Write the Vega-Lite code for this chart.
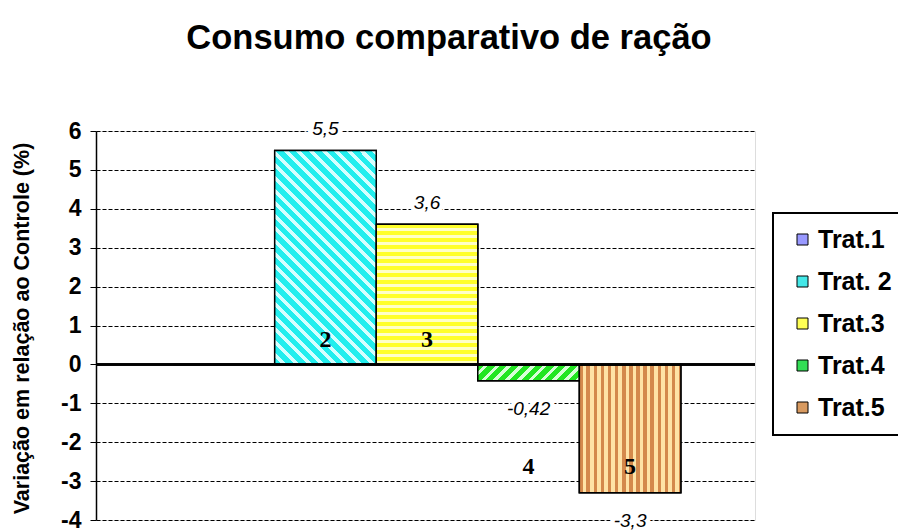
{
  "$schema": "https://vega.github.io/schema/vega-lite/v6.json",
  "width": 659,
  "height": 389,
  "autosize": {"type": "none"},
  "padding": {"left": 96, "top": 131, "right": 143, "bottom": 11},
  "background": "white",
  "config": {"legend": {"strokeWidth": 2}},
  "title": {"text": "Consumo comparativo de ração", "font": "Liberation Sans", "fontSize": 34.5, "fontWeight": "bold", "color": "black", "anchor": "middle", "dx": 23.5, "offset": 64},
  "data": {"values": [
    {"trat": "Trat.1", "valor": 0, "rotulo": "", "num": ""},
    {"trat": "Trat. 2", "valor": 5.5, "rotulo": "5,5", "num": "2"},
    {"trat": "Trat.3", "valor": 3.6, "rotulo": "3,6", "num": "3"},
    {"trat": "Trat.4", "valor": -0.42, "rotulo": "-0,42", "num": "4"},
    {"trat": "Trat.5", "valor": -3.3, "rotulo": "-3,3", "num": "5"}
  ]},
  "encoding": {
    "x": {"field": "trat", "type": "nominal", "sort": null, "scale": {"paddingInner": 0, "paddingOuter": 0.745, "align": 0.51}, "axis": null},
    "y": {"field": "valor", "type": "quantitative", "scale": {"domain": [-4, 6], "nice": false, "zero": false},
      "axis": {"title": "Variação em relação ao Controle (%)", "values": [-4, -3, -2, -1, 0, 1, 2, 3, 4, 5, 6], "labelExpr": "toString(datum.value)",
        "grid": true, "gridColor": "black", "gridDash": [4, 2], "gridWidth": 1.1, "gridOpacity": 1,
        "domainColor": "black", "domainWidth": 1.5, "tickColor": "black", "tickSize": 6, "tickWidth": 1,
        "labelFont": "Liberation Sans", "labelFontSize": 23, "labelFontWeight": "bold", "labelColor": "black", "labelPadding": 9,
        "titleFont": "Liberation Sans", "titleFontSize": 21.5, "titleFontWeight": "bold", "titleColor": "black",
        "titleX": -63, "titleY": 197, "titleAngle": 270, "titleAlign": "center", "titleBaseline": "bottom"}}
  },
  "layer": [
    {
      "mark": {"type": "bar", "stroke": "black", "strokeWidth": 1.5},
      "encoding": {
        "color": {"field": "trat", "type": "nominal", "sort": null,
          "scale": {"domain": ["Trat.1", "Trat. 2", "Trat.3", "Trat.4", "Trat.5"], "range": ["#9999ff", "#44e8e8", "#ffff55", "#33dd55", "#d89a60"]},
          "legend": {"title": null, "orient": "none", "legendX": 677, "legendY": 82, "direction": "vertical",
            "fillColor": "white", "strokeColor": "black", "padding": 14, "cornerRadius": 0,
            "symbolType": "square", "symbolSize": 121, "symbolStrokeColor": "black", "symbolStrokeWidth": 1, "symbolOpacity": 1, "symbolOffset": 3,
            "labelFont": "Liberation Sans", "labelFontSize": 25, "labelFontWeight": "bold", "labelColor": "black", "labelOffset": 3, "rowPadding": 16}}
      }
    },
    {
      "transform": [{"filter": "datum.trat == 'Trat. 2'"}],
      "mark": {"type": "bar", "stroke": "black", "strokeWidth": 1.5,
        "fill": {"gradient": "linear", "x1": 0, "y1": 1, "x2": 0.571, "y2": -0.203, "stops": [
          {"offset": 0, "color": "#22eeee"}, {"offset": 0.024, "color": "#22eeee"}, {"offset": 0.024, "color": "#d6ffff"}, {"offset": 0.04, "color": "#d6ffff"},
          {"offset": 0.04, "color": "#22eeee"}, {"offset": 0.064, "color": "#22eeee"}, {"offset": 0.064, "color": "#d6ffff"}, {"offset": 0.08, "color": "#d6ffff"},
          {"offset": 0.08, "color": "#22eeee"}, {"offset": 0.104, "color": "#22eeee"}, {"offset": 0.104, "color": "#d6ffff"}, {"offset": 0.12, "color": "#d6ffff"},
          {"offset": 0.12, "color": "#22eeee"}, {"offset": 0.144, "color": "#22eeee"}, {"offset": 0.144, "color": "#d6ffff"}, {"offset": 0.16, "color": "#d6ffff"},
          {"offset": 0.16, "color": "#22eeee"}, {"offset": 0.184, "color": "#22eeee"}, {"offset": 0.184, "color": "#d6ffff"}, {"offset": 0.2, "color": "#d6ffff"},
          {"offset": 0.2, "color": "#22eeee"}, {"offset": 0.224, "color": "#22eeee"}, {"offset": 0.224, "color": "#d6ffff"}, {"offset": 0.24, "color": "#d6ffff"},
          {"offset": 0.24, "color": "#22eeee"}, {"offset": 0.264, "color": "#22eeee"}, {"offset": 0.264, "color": "#d6ffff"}, {"offset": 0.28, "color": "#d6ffff"},
          {"offset": 0.28, "color": "#22eeee"}, {"offset": 0.304, "color": "#22eeee"}, {"offset": 0.304, "color": "#d6ffff"}, {"offset": 0.32, "color": "#d6ffff"},
          {"offset": 0.32, "color": "#22eeee"}, {"offset": 0.344, "color": "#22eeee"}, {"offset": 0.344, "color": "#d6ffff"}, {"offset": 0.36, "color": "#d6ffff"},
          {"offset": 0.36, "color": "#22eeee"}, {"offset": 0.384, "color": "#22eeee"}, {"offset": 0.384, "color": "#d6ffff"}, {"offset": 0.4, "color": "#d6ffff"},
          {"offset": 0.4, "color": "#22eeee"}, {"offset": 0.424, "color": "#22eeee"}, {"offset": 0.424, "color": "#d6ffff"}, {"offset": 0.44, "color": "#d6ffff"},
          {"offset": 0.44, "color": "#22eeee"}, {"offset": 0.464, "color": "#22eeee"}, {"offset": 0.464, "color": "#d6ffff"}, {"offset": 0.48, "color": "#d6ffff"},
          {"offset": 0.48, "color": "#22eeee"}, {"offset": 0.504, "color": "#22eeee"}, {"offset": 0.504, "color": "#d6ffff"}, {"offset": 0.52, "color": "#d6ffff"},
          {"offset": 0.52, "color": "#22eeee"}, {"offset": 0.544, "color": "#22eeee"}, {"offset": 0.544, "color": "#d6ffff"}, {"offset": 0.56, "color": "#d6ffff"},
          {"offset": 0.56, "color": "#22eeee"}, {"offset": 0.584, "color": "#22eeee"}, {"offset": 0.584, "color": "#d6ffff"}, {"offset": 0.6, "color": "#d6ffff"},
          {"offset": 0.6, "color": "#22eeee"}, {"offset": 0.624, "color": "#22eeee"}, {"offset": 0.624, "color": "#d6ffff"}, {"offset": 0.64, "color": "#d6ffff"},
          {"offset": 0.64, "color": "#22eeee"}, {"offset": 0.664, "color": "#22eeee"}, {"offset": 0.664, "color": "#d6ffff"}, {"offset": 0.68, "color": "#d6ffff"},
          {"offset": 0.68, "color": "#22eeee"}, {"offset": 0.704, "color": "#22eeee"}, {"offset": 0.704, "color": "#d6ffff"}, {"offset": 0.72, "color": "#d6ffff"},
          {"offset": 0.72, "color": "#22eeee"}, {"offset": 0.744, "color": "#22eeee"}, {"offset": 0.744, "color": "#d6ffff"}, {"offset": 0.76, "color": "#d6ffff"},
          {"offset": 0.76, "color": "#22eeee"}, {"offset": 0.784, "color": "#22eeee"}, {"offset": 0.784, "color": "#d6ffff"}, {"offset": 0.8, "color": "#d6ffff"},
          {"offset": 0.8, "color": "#22eeee"}, {"offset": 0.824, "color": "#22eeee"}, {"offset": 0.824, "color": "#d6ffff"}, {"offset": 0.84, "color": "#d6ffff"},
          {"offset": 0.84, "color": "#22eeee"}, {"offset": 0.864, "color": "#22eeee"}, {"offset": 0.864, "color": "#d6ffff"}, {"offset": 0.88, "color": "#d6ffff"},
          {"offset": 0.88, "color": "#22eeee"}, {"offset": 0.904, "color": "#22eeee"}, {"offset": 0.904, "color": "#d6ffff"}, {"offset": 0.92, "color": "#d6ffff"},
          {"offset": 0.92, "color": "#22eeee"}, {"offset": 0.944, "color": "#22eeee"}, {"offset": 0.944, "color": "#d6ffff"}, {"offset": 0.96, "color": "#d6ffff"},
          {"offset": 0.96, "color": "#22eeee"}, {"offset": 0.984, "color": "#22eeee"}, {"offset": 0.984, "color": "#d6ffff"}, {"offset": 1, "color": "#d6ffff"}
        ]}}
    },
    {
      "transform": [{"filter": "datum.trat == 'Trat.3'"}],
      "mark": {"type": "bar", "stroke": "black", "strokeWidth": 1.5,
        "fill": {"gradient": "linear", "x1": 0, "y1": 0, "x2": 0, "y2": 1, "stops": [
          {"offset": 0, "color": "#ffff2a"}, {"offset": 0.025, "color": "#ffff2a"}, {"offset": 0.025, "color": "#ffffc8"}, {"offset": 0.05, "color": "#ffffc8"},
          {"offset": 0.05, "color": "#ffff2a"}, {"offset": 0.075, "color": "#ffff2a"}, {"offset": 0.075, "color": "#ffffc8"}, {"offset": 0.1, "color": "#ffffc8"},
          {"offset": 0.1, "color": "#ffff2a"}, {"offset": 0.125, "color": "#ffff2a"}, {"offset": 0.125, "color": "#ffffc8"}, {"offset": 0.15, "color": "#ffffc8"},
          {"offset": 0.15, "color": "#ffff2a"}, {"offset": 0.175, "color": "#ffff2a"}, {"offset": 0.175, "color": "#ffffc8"}, {"offset": 0.2, "color": "#ffffc8"},
          {"offset": 0.2, "color": "#ffff2a"}, {"offset": 0.225, "color": "#ffff2a"}, {"offset": 0.225, "color": "#ffffc8"}, {"offset": 0.25, "color": "#ffffc8"},
          {"offset": 0.25, "color": "#ffff2a"}, {"offset": 0.275, "color": "#ffff2a"}, {"offset": 0.275, "color": "#ffffc8"}, {"offset": 0.3, "color": "#ffffc8"},
          {"offset": 0.3, "color": "#ffff2a"}, {"offset": 0.325, "color": "#ffff2a"}, {"offset": 0.325, "color": "#ffffc8"}, {"offset": 0.35, "color": "#ffffc8"},
          {"offset": 0.35, "color": "#ffff2a"}, {"offset": 0.375, "color": "#ffff2a"}, {"offset": 0.375, "color": "#ffffc8"}, {"offset": 0.4, "color": "#ffffc8"},
          {"offset": 0.4, "color": "#ffff2a"}, {"offset": 0.425, "color": "#ffff2a"}, {"offset": 0.425, "color": "#ffffc8"}, {"offset": 0.45, "color": "#ffffc8"},
          {"offset": 0.45, "color": "#ffff2a"}, {"offset": 0.475, "color": "#ffff2a"}, {"offset": 0.475, "color": "#ffffc8"}, {"offset": 0.5, "color": "#ffffc8"},
          {"offset": 0.5, "color": "#ffff2a"}, {"offset": 0.525, "color": "#ffff2a"}, {"offset": 0.525, "color": "#ffffc8"}, {"offset": 0.55, "color": "#ffffc8"},
          {"offset": 0.55, "color": "#ffff2a"}, {"offset": 0.575, "color": "#ffff2a"}, {"offset": 0.575, "color": "#ffffc8"}, {"offset": 0.6, "color": "#ffffc8"},
          {"offset": 0.6, "color": "#ffff2a"}, {"offset": 0.625, "color": "#ffff2a"}, {"offset": 0.625, "color": "#ffffc8"}, {"offset": 0.65, "color": "#ffffc8"},
          {"offset": 0.65, "color": "#ffff2a"}, {"offset": 0.675, "color": "#ffff2a"}, {"offset": 0.675, "color": "#ffffc8"}, {"offset": 0.7, "color": "#ffffc8"},
          {"offset": 0.7, "color": "#ffff2a"}, {"offset": 0.725, "color": "#ffff2a"}, {"offset": 0.725, "color": "#ffffc8"}, {"offset": 0.75, "color": "#ffffc8"},
          {"offset": 0.75, "color": "#ffff2a"}, {"offset": 0.775, "color": "#ffff2a"}, {"offset": 0.775, "color": "#ffffc8"}, {"offset": 0.8, "color": "#ffffc8"},
          {"offset": 0.8, "color": "#ffff2a"}, {"offset": 0.825, "color": "#ffff2a"}, {"offset": 0.825, "color": "#ffffc8"}, {"offset": 0.85, "color": "#ffffc8"},
          {"offset": 0.85, "color": "#ffff2a"}, {"offset": 0.875, "color": "#ffff2a"}, {"offset": 0.875, "color": "#ffffc8"}, {"offset": 0.9, "color": "#ffffc8"},
          {"offset": 0.9, "color": "#ffff2a"}, {"offset": 0.925, "color": "#ffff2a"}, {"offset": 0.925, "color": "#ffffc8"}, {"offset": 0.95, "color": "#ffffc8"},
          {"offset": 0.95, "color": "#ffff2a"}, {"offset": 0.975, "color": "#ffff2a"}, {"offset": 0.975, "color": "#ffffc8"}, {"offset": 1, "color": "#ffffc8"}
        ]}}
    },
    {
      "transform": [{"filter": "datum.trat == 'Trat.4'"}],
      "mark": {"type": "bar", "stroke": "black", "strokeWidth": 1.5,
        "fill": {"gradient": "linear", "x1": 0, "y1": 0, "x2": 1.132, "y2": 0.182, "stops": [
          {"offset": 0, "color": "#22e622"}, {"offset": 0.06, "color": "#22e622"}, {"offset": 0.06, "color": "#d8ffd8"}, {"offset": 0.1, "color": "#d8ffd8"},
          {"offset": 0.1, "color": "#22e622"}, {"offset": 0.16, "color": "#22e622"}, {"offset": 0.16, "color": "#d8ffd8"}, {"offset": 0.2, "color": "#d8ffd8"},
          {"offset": 0.2, "color": "#22e622"}, {"offset": 0.26, "color": "#22e622"}, {"offset": 0.26, "color": "#d8ffd8"}, {"offset": 0.3, "color": "#d8ffd8"},
          {"offset": 0.3, "color": "#22e622"}, {"offset": 0.36, "color": "#22e622"}, {"offset": 0.36, "color": "#d8ffd8"}, {"offset": 0.4, "color": "#d8ffd8"},
          {"offset": 0.4, "color": "#22e622"}, {"offset": 0.46, "color": "#22e622"}, {"offset": 0.46, "color": "#d8ffd8"}, {"offset": 0.5, "color": "#d8ffd8"},
          {"offset": 0.5, "color": "#22e622"}, {"offset": 0.56, "color": "#22e622"}, {"offset": 0.56, "color": "#d8ffd8"}, {"offset": 0.6, "color": "#d8ffd8"},
          {"offset": 0.6, "color": "#22e622"}, {"offset": 0.66, "color": "#22e622"}, {"offset": 0.66, "color": "#d8ffd8"}, {"offset": 0.7, "color": "#d8ffd8"},
          {"offset": 0.7, "color": "#22e622"}, {"offset": 0.76, "color": "#22e622"}, {"offset": 0.76, "color": "#d8ffd8"}, {"offset": 0.8, "color": "#d8ffd8"},
          {"offset": 0.8, "color": "#22e622"}, {"offset": 0.86, "color": "#22e622"}, {"offset": 0.86, "color": "#d8ffd8"}, {"offset": 0.9, "color": "#d8ffd8"},
          {"offset": 0.9, "color": "#22e622"}, {"offset": 0.96, "color": "#22e622"}, {"offset": 0.96, "color": "#d8ffd8"}, {"offset": 1, "color": "#d8ffd8"}
        ]}}
    },
    {
      "transform": [{"filter": "datum.trat == 'Trat.5'"}],
      "mark": {"type": "bar", "stroke": "black", "strokeWidth": 1.5,
        "fill": {"gradient": "linear", "x1": 0, "y1": 0, "x2": 1, "y2": 0, "stops": [
          {"offset": 0, "color": "#d4894c"}, {"offset": 0.035, "color": "#d4894c"}, {"offset": 0.035, "color": "#ffe3a6"}, {"offset": 0.07, "color": "#ffe3a6"},
          {"offset": 0.07, "color": "#d4894c"}, {"offset": 0.105, "color": "#d4894c"}, {"offset": 0.105, "color": "#ffe3a6"}, {"offset": 0.14, "color": "#ffe3a6"},
          {"offset": 0.14, "color": "#d4894c"}, {"offset": 0.175, "color": "#d4894c"}, {"offset": 0.175, "color": "#ffe3a6"}, {"offset": 0.21, "color": "#ffe3a6"},
          {"offset": 0.21, "color": "#d4894c"}, {"offset": 0.245, "color": "#d4894c"}, {"offset": 0.245, "color": "#ffe3a6"}, {"offset": 0.28, "color": "#ffe3a6"},
          {"offset": 0.28, "color": "#d4894c"}, {"offset": 0.315, "color": "#d4894c"}, {"offset": 0.315, "color": "#ffe3a6"}, {"offset": 0.35, "color": "#ffe3a6"},
          {"offset": 0.35, "color": "#d4894c"}, {"offset": 0.385, "color": "#d4894c"}, {"offset": 0.385, "color": "#ffe3a6"}, {"offset": 0.42, "color": "#ffe3a6"},
          {"offset": 0.42, "color": "#d4894c"}, {"offset": 0.455, "color": "#d4894c"}, {"offset": 0.455, "color": "#ffe3a6"}, {"offset": 0.49, "color": "#ffe3a6"},
          {"offset": 0.49, "color": "#d4894c"}, {"offset": 0.525, "color": "#d4894c"}, {"offset": 0.525, "color": "#ffe3a6"}, {"offset": 0.56, "color": "#ffe3a6"},
          {"offset": 0.56, "color": "#d4894c"}, {"offset": 0.595, "color": "#d4894c"}, {"offset": 0.595, "color": "#ffe3a6"}, {"offset": 0.63, "color": "#ffe3a6"},
          {"offset": 0.63, "color": "#d4894c"}, {"offset": 0.665, "color": "#d4894c"}, {"offset": 0.665, "color": "#ffe3a6"}, {"offset": 0.7, "color": "#ffe3a6"},
          {"offset": 0.7, "color": "#d4894c"}, {"offset": 0.735, "color": "#d4894c"}, {"offset": 0.735, "color": "#ffe3a6"}, {"offset": 0.77, "color": "#ffe3a6"},
          {"offset": 0.77, "color": "#d4894c"}, {"offset": 0.805, "color": "#d4894c"}, {"offset": 0.805, "color": "#ffe3a6"}, {"offset": 0.84, "color": "#ffe3a6"},
          {"offset": 0.84, "color": "#d4894c"}, {"offset": 0.875, "color": "#d4894c"}, {"offset": 0.875, "color": "#ffe3a6"}, {"offset": 0.91, "color": "#ffe3a6"},
          {"offset": 0.91, "color": "#d4894c"}, {"offset": 0.945, "color": "#d4894c"}, {"offset": 0.945, "color": "#ffe3a6"}, {"offset": 0.98, "color": "#ffe3a6"},
          {"offset": 0.98, "color": "#d4894c"}, {"offset": 1, "color": "#d4894c"}
        ]}}
    },
    {
      "mark": {"type": "rule", "color": "black", "strokeWidth": 2},
      "encoding": {"x": null, "y": {"datum": 0}}
    },
    {
      "transform": [{"filter": "datum.valor > 0"}],
      "mark": {"type": "text", "font": "Liberation Sans", "fontSize": 19, "fontStyle": "italic", "baseline": "middle", "dy": -21, "stroke": "white", "strokeWidth": 9, "fill": "white"},
      "encoding": {"text": {"field": "rotulo"}}
    },
    {
      "transform": [{"filter": "datum.valor < 0"}],
      "mark": {"type": "text", "font": "Liberation Sans", "fontSize": 19, "fontStyle": "italic", "baseline": "middle", "dy": 28, "stroke": "white", "strokeWidth": 9, "fill": "white"},
      "encoding": {"text": {"field": "rotulo"}}
    },
    {
      "transform": [{"filter": "datum.valor > 0"}],
      "mark": {"type": "text", "font": "Liberation Sans", "fontSize": 19, "fontStyle": "italic", "baseline": "middle", "dy": -21, "color": "black"},
      "encoding": {"text": {"field": "rotulo"}}
    },
    {
      "transform": [{"filter": "datum.valor < 0"}],
      "mark": {"type": "text", "font": "Liberation Sans", "fontSize": 19, "fontStyle": "italic", "baseline": "middle", "dy": 28, "color": "black"},
      "encoding": {"text": {"field": "rotulo"}}
    },
    {
      "transform": [{"filter": "datum.valor > 0"}],
      "mark": {"type": "text", "font": "Liberation Serif", "fontSize": 24, "fontWeight": "bold", "baseline": "middle", "dy": -24, "color": "black"},
      "encoding": {"y": {"datum": 0}, "text": {"field": "num"}}
    },
    {
      "transform": [{"filter": "datum.valor < 0"}],
      "mark": {"type": "text", "font": "Liberation Serif", "fontSize": 24, "fontWeight": "bold", "baseline": "middle", "dy": 103, "color": "black"},
      "encoding": {"y": {"datum": 0}, "text": {"field": "num"}}
    }
  ]
}
